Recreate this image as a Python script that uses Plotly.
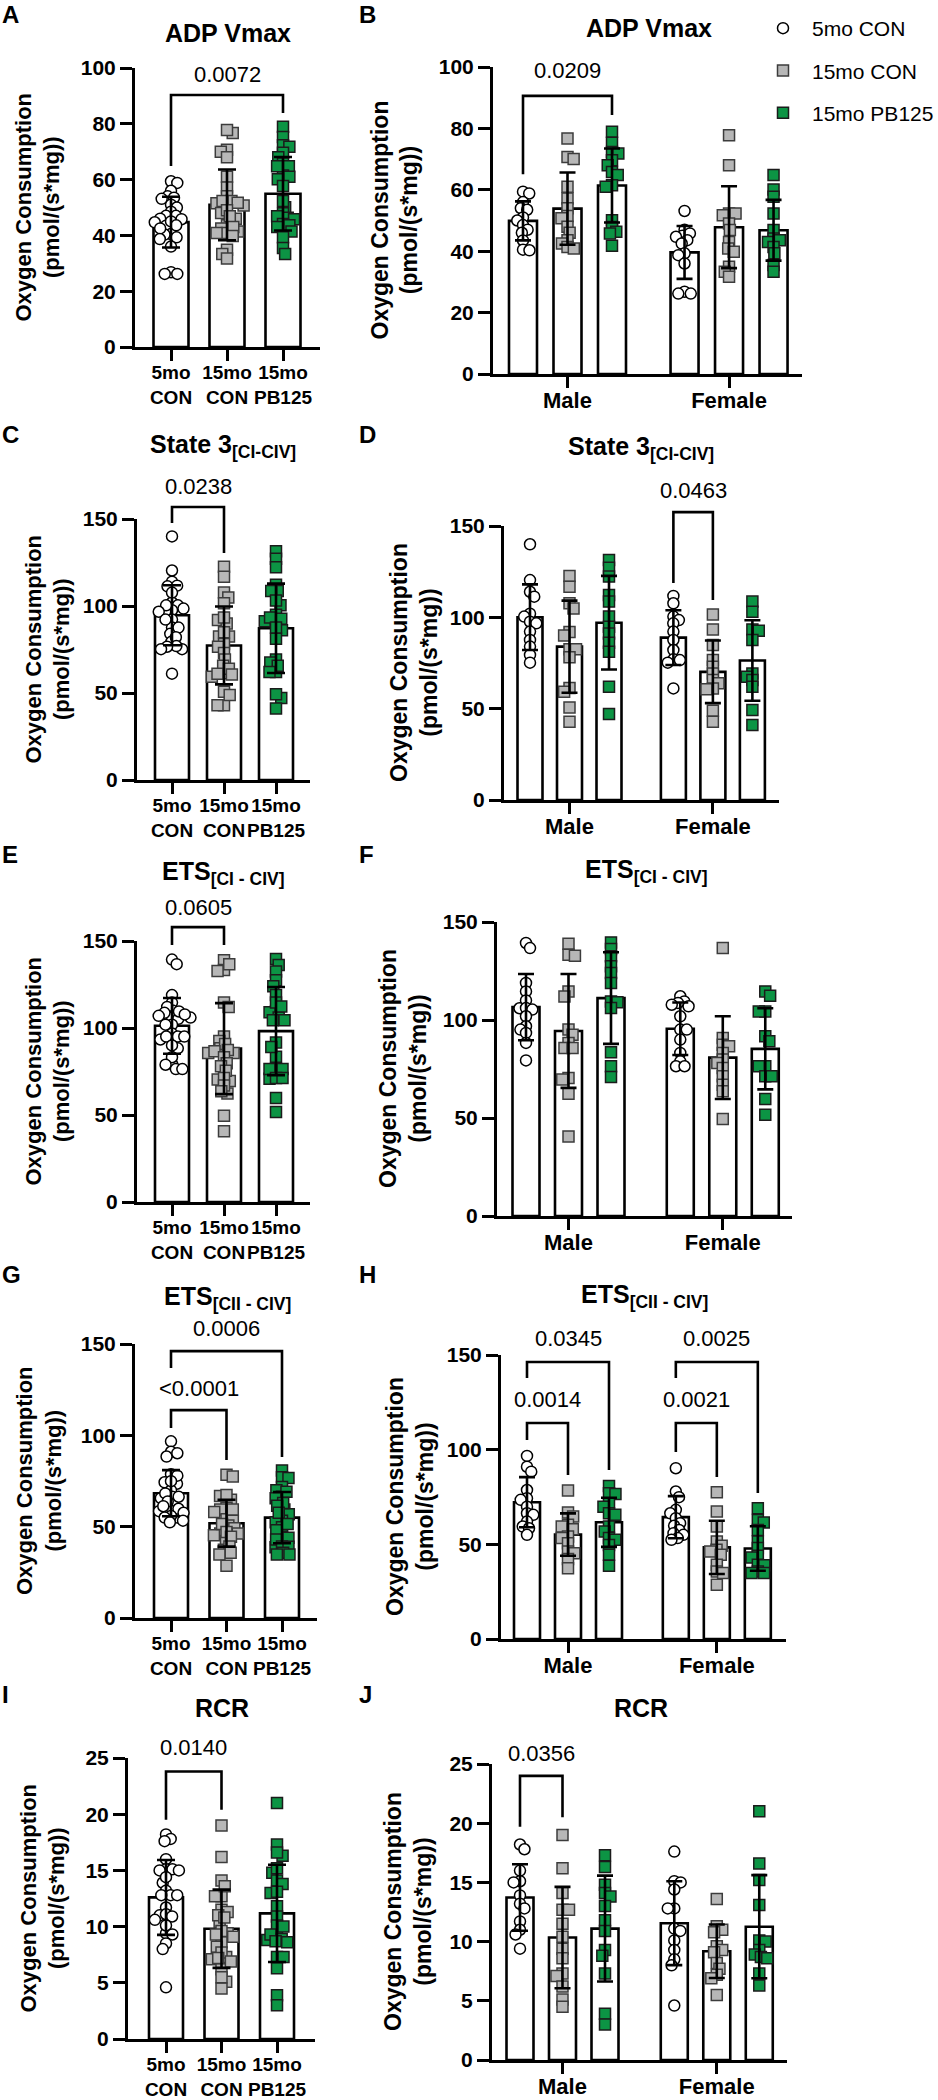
import numpy as np
import plotly.graph_objects as go

W, H = 938, 2100
FONT = "Liberation Sans, Arial, Helvetica, sans-serif"

# ---------------- data ----------------
GROUPS = ["5mo CON", "15mo CON", "15mo PB125"]
GROUP_TICKTEXT = ["5mo<br>CON", "15mo<br>CON", "15mo<br>PB125"]
SEXES = ["Male", "Female"]
Y_LABEL = "Oxygen Consumption<br>(pmol/(s*mg))"

ADP_TICKS = [0, 20, 40, 60, 80, 100]
RESP_TICKS = [0, 50, 100, 150]
RCR_TICKS = [0, 5, 10, 15, 20, 25]

# ADP Vmax
adp_male_5mo_con = [59.4, 58.8, 56.0, 54.0, 53.5, 51.0, 50.0, 48.5, 47.0, 46.0, 43.5, 40.5, 40.3]
adp_male_15mo_con = [76.7, 70.7, 70.0, 61.0, 57.2, 54.0, 51.5, 50.7, 48.0, 46.0, 43.6, 42.5, 41.4, 40.9]
adp_male_15mo_pb125 = [78.9, 75.3, 72.3, 71.8, 69.6, 68.0, 65.8, 64.8, 61.5, 61.0, 50.1, 47.9, 46.3, 45.8, 41.8]
adp_female_5mo_con = [53.1, 47.0, 45.0, 45.8, 44.7, 43.6, 42.5, 39.3, 38.7, 36.0, 26.8, 26.2, 26.2]
adp_female_15mo_con = [77.8, 68.0, 52.3, 52.3, 51.7, 49.0, 46.9, 43.0, 40.9, 39.8, 34.9, 33.3, 31.7]
adp_female_15mo_pb125 = [64.8, 60.1, 57.7, 52.3, 46.9, 44.1, 43.6, 43.0, 41.4, 39.3, 35.5, 33.3]

# State 3 [CI-CIV]
s3_male_5mo_con = [140.0, 120.4, 114.0, 111.3, 102.0, 100.4, 97.6, 96.7, 92.2, 87.6, 84.0, 79.4, 75.2]
s3_male_15mo_con = [122.6, 116.8, 107.7, 104.9, 92.0, 90.0, 82.5, 82.5, 78.1, 61.3, 59.3, 50.7, 42.9]
s3_male_15mo_pb125 = [131.4, 127.2, 122.3, 112.2, 108.6, 100.4, 94.9, 91.2, 86.1, 81.2, 62.0, 47.1]
s3_female_5mo_con = [111.7, 107.7, 100.4, 98.5, 96.7, 92.2, 87.6, 82.1, 77.0, 76.6, 75.2, 61.1]
s3_female_15mo_con = [101.6, 93.4, 84.9, 76.6, 73.0, 69.3, 65.7, 63.9, 61.1, 60.6, 48.9, 42.9]
s3_female_15mo_pb125 = [108.6, 103.1, 93.4, 92.7, 87.6, 69.3, 67.5, 65.7, 62.0, 49.3, 41.1]

# ETS [CI - CIV]
ets1_male_5mo_con = [139.3, 136.7, 118.9, 114.6, 110.0, 106.0, 106.1, 105.3, 101.9, 96.8, 95.1, 93.4, 88.3, 79.4]
ets1_male_15mo_con = [138.9, 133.3, 132.8, 114.6, 112.0, 95.1, 92.5, 88.3, 85.7, 85.7, 70.4, 69.6, 62.4, 40.6]
ets1_male_15mo_pb125 = [139.6, 136.2, 132.5, 127.4, 124.0, 118.9, 109.5, 109.0, 106.1, 83.5, 76.4, 70.9]
ets1_female_5mo_con = [112.1, 109.5, 108.7, 107.8, 107.0, 101.9, 95.1, 95.1, 90.0, 83.2, 78.9, 76.4, 76.4]
ets1_female_15mo_con = [136.7, 90.8, 87.4, 86.6, 83.2, 79.8, 78.0, 75.5, 71.3, 67.0, 63.6, 49.5]
ets1_female_15mo_pb125 = [114.6, 112.4, 104.4, 104.4, 91.7, 89.1, 76.4, 76.4, 71.3, 71.3, 59.7, 51.7]

# ETS [CII - CIV]
ets2_male_5mo_con = [96.7, 91.0, 88.4, 78.7, 74.3, 73.5, 69.9, 66.4, 65.6, 62.0, 59.4, 58.5, 55.0]
ets2_male_15mo_con = [78.4, 66.8, 64.7, 60.3, 59.4, 58.0, 54.1, 53.3, 50.6, 46.2, 45.3, 42.2, 37.4]
ets2_male_15mo_pb125 = [80.8, 77.0, 76.6, 71.7, 69.9, 66.4, 65.6, 59.4, 56.8, 53.3, 52.4, 49.7, 44.5, 38.7]
ets2_female_5mo_con = [90.2, 77.9, 74.9, 68.2, 66.4, 63.8, 61.2, 59.8, 57.6, 55.9, 55.0, 53.3, 52.4]
ets2_female_15mo_con = [77.5, 67.3, 59.4, 51.5, 49.2, 47.1, 46.2, 44.5, 39.2, 35.7, 34.8, 28.6]
ets2_female_15mo_pb125 = [69.1, 62.9, 61.5, 57.6, 51.5, 48.0, 44.0, 43.0, 39.2, 39.0, 35.7, 34.8, 34.8]

# RCR
rcr_male_5mo_con = [18.2, 17.8, 16.0, 15.1, 15.0, 13.9, 13.2, 12.8, 11.7, 11.0, 10.6, 9.4]
rcr_male_15mo_con = [19.0, 16.2, 14.1, 12.7, 12.7, 11.5, 10.4, 9.4, 8.6, 7.3, 7.1, 6.2, 5.1, 4.5]
rcr_male_15mo_pb125 = [17.3, 16.3, 14.8, 14.1, 13.8, 13.0, 11.8, 10.9, 9.3, 8.8, 7.3, 3.9, 3.0]
rcr_female_5mo_con = [17.6, 15.1, 15.0, 14.4, 12.8, 12.8, 11.1, 10.9, 10.1, 9.3, 8.5, 8.0, 4.6]
rcr_female_15mo_con = [13.6, 11.3, 11.0, 10.8, 9.6, 9.3, 9.1, 8.2, 7.7, 7.2, 6.9, 5.5]
rcr_female_15mo_pb125 = [21.0, 16.6, 15.2, 13.1, 10.1, 10.0, 9.3, 8.9, 8.7, 8.6, 7.3, 6.3]

METRICS = [
    dict(title="ADP Vmax", ticks=ADP_TICKS,
         male=[adp_male_5mo_con, adp_male_15mo_con, adp_male_15mo_pb125],
         female=[adp_female_5mo_con, adp_female_15mo_con, adp_female_15mo_pb125]),
    dict(title="State 3<sub>[CI-CIV]</sub>", ticks=RESP_TICKS,
         male=[s3_male_5mo_con, s3_male_15mo_con, s3_male_15mo_pb125],
         female=[s3_female_5mo_con, s3_female_15mo_con, s3_female_15mo_pb125]),
    dict(title="ETS<sub>[CI - CIV]</sub>", ticks=RESP_TICKS,
         male=[ets1_male_5mo_con, ets1_male_15mo_con, ets1_male_15mo_pb125],
         female=[ets1_female_5mo_con, ets1_female_15mo_con, ets1_female_15mo_pb125]),
    dict(title="ETS<sub>[CII - CIV]</sub>", ticks=RESP_TICKS,
         male=[ets2_male_5mo_con, ets2_male_15mo_con, ets2_male_15mo_pb125],
         female=[ets2_female_5mo_con, ets2_female_15mo_con, ets2_female_15mo_pb125]),
    dict(title="RCR", ticks=RCR_TICKS,
         male=[rcr_male_5mo_con, rcr_male_15mo_con, rcr_male_15mo_pb125],
         female=[rcr_female_5mo_con, rcr_female_15mo_con, rcr_female_15mo_pb125]),
]

# significance comparisons: (bar i, bar j, label, bracket top, left end, right end, label y) in data units
COMPARISONS = {
    "A": [(0, 2, "0.0072", 90.3, 64.9, 83.9, 97.8)],
    "B": [(0, 2, "0.0209", 90.6, 65.1, 84.4, 98.7)],
    "C": [(0, 1, "0.0238", 156.9, 147.7, 130.5, 168.4)],
    "D": [(3, 4, "0.0463", 157.6, 118.8, 109.5, 169.7)],
    "E": [(0, 1, "0.0605", 158.0, 147.7, 147.7, 169.5)],
    "F": [],
    "G": [(0, 2, "0.0006", 146.1, 136.8, 88.1, 158.7),
          (0, 1, "&lt;0.0001", 113.8, 104.0, 86.5, 125.9)],
    "H": [(0, 2, "0.0345", 146.3, 137.9, 89.3, 158.5),
          (0, 1, "0.0014", 114.1, 105.1, 86.6, 126.3),
          (3, 5, "0.0025", 146.3, 137.9, 77.1, 158.5),
          (3, 4, "0.0021", 114.1, 98.8, 85.6, 126.3)],
    "I": [(0, 1, "0.0140", 23.8, 19.5, 20.4, 25.9)],
    "J": [(0, 1, "0.0356", 24.0, 19.7, 20.5, 25.9)],
}

# ---------------- layout geometry (pixels) ----------------
# left axis x, right end x, y of zero, y of top tick, first bar centre, bar spacing, bar width
GEOM = {
    "A": (135, 320, 347, 68, 171, 56.0, 35),
    "B": (493, 802, 374, 67, 523, 44.5, 28),
    "C": (137, 310, 780, 519, 172, 52.0, 34),
    "D": (504, 779, 800, 526, 530, 39.5, 25),
    "E": (137, 310, 1202, 941, 172, 52.0, 34),
    "F": (497, 792, 1216, 922, 526, 42.5, 27),
    "G": (135, 317, 1618, 1344, 171, 55.5, 34),
    "H": (501, 786, 1639, 1355, 527, 41.0, 26),
    "I": (128, 315, 2039, 1758, 166, 55.5, 34),
    "J": (492, 787, 2060, 1764, 520, 42.5, 27),
}
TITLE_POS = {"A": (228, 33), "B": (649, 28), "C": (223, 446), "D": (641, 448),
             "E": (223, 873), "F": (646, 871), "G": (227, 1298), "H": (644, 1296),
             "I": (222, 1708), "J": (641, 1708)}
LETTER_POS = {"A": (0, 14), "B": (357, 14), "C": (0, 434), "D": (357, 434),
              "E": (0, 854), "F": (357, 854), "G": (0, 1274), "H": (357, 1274),
              "I": (0, 1694), "J": (357, 1694)}
YTITLE_X = {"A": 38, "B": 395, "C": 47, "D": 414, "E": 47, "F": 403,
            "G": 39, "H": 410, "I": 42, "J": 408}
GROUPED_POS = [0, 1, 2, 3.63, 4.63, 5.63]
GROUPED_TICKS = [1, 4.63]

STYLES = [
    dict(symbol="circle", color="white", line=dict(color="black", width=1.5)),
    dict(symbol="square", color="#B7B7B7", line=dict(color="#3C3C3C", width=1.5)),
    dict(symbol="square", color="#0C9444", line=dict(color="#1B1B1B", width=1.5)),
]
MSIZE = 11
SWARM_D = 6.5


def swarm(vals, ppy, d, maxw):
    ys = np.asarray(vals, dtype=float) * ppy
    order = np.argsort(-ys, kind="stable")
    placed = []
    offs = np.zeros(len(ys))
    flip = 1.0
    for i in order:
        y = ys[i]
        cands = [0.0]
        for px, py in placed:
            dy = abs(py - y)
            if dy < d:
                dx = np.sqrt(d * d - dy * dy)
                cands += [px - dx, px + dx]
        cands.sort(key=lambda c: (round(abs(c), 3), -flip * c))
        best = None
        for c in cands:
            if all((c - px) ** 2 + (y - py) ** 2 >= d * d - 1e-6 for px, py in placed):
                best = c
                break
        if best is None:
            best = 0.0
        best = float(np.clip(best, -maxw, maxw))
        offs[i] = best
        if best != 0:
            flip = -flip
        placed.append((best, y))
    return offs


def px2paper_x(px):
    return px / W


def px2paper_y(py):
    return 1 - py / H


fig = go.Figure()
layout = {}
annotations = []
shapes = []

for r, m in enumerate(METRICS):
    for kind in ("combined", "grouped"):
        idx = 2 * r + (1 if kind == "combined" else 2)
        letter = "ABCDEFGHIJ"[idx - 1]
        left, right, y0, ytop, c0, sp, bw = GEOM[letter]
        ymax = m["ticks"][-1]
        ppy = (y0 - ytop) / ymax
        xref = "x" if idx == 1 else f"x{idx}"
        yref = "y" if idx == 1 else f"y{idx}"
        if kind == "combined":
            sets = [m["male"][k] + m["female"][k] for k in range(3)]
            positions = [0, 1, 2]
            styles = [0, 1, 2]
            tickvals, ticktext, tfs, stand = [0, 1, 2], GROUP_TICKTEXT, 19, -5
            cap = 9
            ytfs = 22
        else:
            sets = m["male"] + m["female"]
            positions = GROUPED_POS
            styles = [0, 1, 2, 0, 1, 2]
            tickvals, ticktext, tfs, stand = GROUPED_TICKS, SEXES, 22, -6
            cap = 8
            ytfs = 23
        means = [float(np.mean(s)) for s in sets]
        sds = [float(np.std(s, ddof=1)) for s in sets]

        fig.add_trace(go.Bar(
            x=positions, y=means, width=bw / sp,
            marker=dict(color="white", line=dict(color="black", width=2.6)),
            xaxis=xref, yaxis=yref, showlegend=False, hoverinfo="skip"))
        for j, (pos, s, st) in enumerate(zip(positions, sets, styles)):
            offs = swarm(s, ppy, SWARM_D, bw * 0.55)
            sty = STYLES[st]
            fig.add_trace(go.Scatter(
                x=pos + offs / sp, y=s, mode="markers",
                marker=dict(symbol=sty["symbol"], size=MSIZE, color=sty["color"], line=sty["line"]),
                name=GROUPS[st], legendgroup=GROUPS[st],
                showlegend=(letter == "B" and j < 3),
                xaxis=xref, yaxis=yref, cliponaxis=False))
        fig.add_trace(go.Scatter(
            x=positions, y=means, mode="markers",
            marker=dict(size=1, color="rgba(0,0,0,0)"),
            error_y=dict(type="data", array=sds, visible=True, color="black", thickness=2.6, width=cap),
            xaxis=xref, yaxis=yref, showlegend=False, hoverinfo="skip", cliponaxis=False))

        xk = "xaxis" if idx == 1 else f"xaxis{idx}"
        yk = "yaxis" if idx == 1 else f"yaxis{idx}"
        common = dict(showline=True, linewidth=3, linecolor="black", ticks="outside",
                      tickwidth=3, tickcolor="black", showgrid=False, zeroline=False,
                      fixedrange=True, automargin=False)
        layout[xk] = dict(
            domain=[px2paper_x(left), px2paper_x(right)],
            range=[(left - c0) / sp, (right - c0) / sp],
            anchor=yref, tickvals=tickvals, ticktext=ticktext, ticklen=11, tickangle=0,
            ticklabelstandoff=stand,
            tickfont=dict(family=FONT, size=tfs, color="black", weight="bold"), **common)
        layout[yk] = dict(
            domain=[px2paper_y(y0), px2paper_y(ytop)],
            range=[0, ymax], anchor=xref, tickvals=m["ticks"], ticklen=12,
            tickfont=dict(family=FONT, size=21, color="black", weight="bold"), **common)

        # titles / labels
        tx, ty = TITLE_POS[letter]
        annotations.append(dict(text=f"<b>{m['title']}</b>", x=px2paper_x(tx), y=px2paper_y(ty),
                                xref="paper", yref="paper", xanchor="center", yanchor="middle",
                                showarrow=False, font=dict(family=FONT, size=25, color="black")))
        lx, ly = LETTER_POS[letter]
        annotations.append(dict(text=f"<b>{letter}</b>", x=px2paper_x(lx), y=px2paper_y(ly),
                                xref="paper", yref="paper", xanchor="left", yanchor="middle",
                                showarrow=False, font=dict(family=FONT, size=24, color="black")))
        annotations.append(dict(text=f"<b>{Y_LABEL}</b>", x=px2paper_x(YTITLE_X[letter]),
                                y=px2paper_y((y0 + ytop) / 2), xref="paper", yref="paper",
                                xanchor="center", yanchor="middle", textangle=-90, align="center",
                                showarrow=False, font=dict(family=FONT, size=ytfs, color="black")))

        # significance brackets
        for (i, j, lab, top, le, re, ly_) in COMPARISONS[letter]:
            xa = px2paper_x(c0 + positions[i] * sp)
            xb = px2paper_x(c0 + positions[j] * sp)
            ya_t = px2paper_y(y0 - top * ppy)
            ya_l = px2paper_y(y0 - le * ppy)
            ya_r = px2paper_y(y0 - re * ppy)
            shapes.append(dict(type="path", xref="paper", yref="paper",
                               path=f"M {xa},{ya_l} L {xa},{ya_t} L {xb},{ya_t} L {xb},{ya_r}",
                               line=dict(color="black", width=2.6)))
            annotations.append(dict(text=lab, x=(xa + xb) / 2, y=px2paper_y(y0 - ly_ * ppy),
                                    xref="paper", yref="paper", xanchor="center", yanchor="middle",
                                    showarrow=False, font=dict(family=FONT, size=22, color="black")))

fig.update_layout(
    width=W, height=H, margin=dict(l=0, r=0, t=0, b=0, pad=0, autoexpand=False),
    paper_bgcolor="white", plot_bgcolor="white",
    font=dict(family=FONT, color="black"),
    barmode="overlay", showlegend=True,
    legend=dict(x=754 / W, y=1 - 8 / H, xanchor="left", yanchor="top",
                font=dict(family=FONT, size=21, color="black"),
                itemwidth=48, tracegroupgap=12, bgcolor="rgba(0,0,0,0)"),
    annotations=annotations, shapes=shapes, **layout)

fig.write_html("out.html", config=dict(displayModeBar=False),
               post_script="document.body.style.margin='0';document.body.style.overflow='hidden';")
